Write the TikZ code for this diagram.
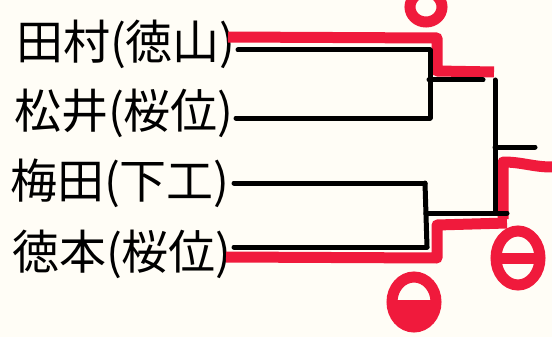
\documentclass[tikz,border=0pt]{standalone}
\usepackage{fontspec}
\newfontfamily\jpfont{Noto Sans CJK JP}
\usepackage{xcolor}
\usetikzlibrary{positioning,calc}
\definecolor{paper}{HTML}{FFFDF6}
\definecolor{winred}{HTML}{F01A3C}
\tikzset{
player/.style = {anchor=east, inner sep=0pt, font=\jpfont\fontsize{47}{47}\selectfont},
pt/.style = {coordinate},
bline/.style = {draw, line width=5pt, line cap=round},
rline/.style = {draw=winred, line width=11pt, line join=round},
res/.style = {draw=winred, line width=11pt},
}

\begin{document}
\begin{tikzpicture}[x=1pt, y=-1pt]
    \fill[paper] (0,0) rectangle (552,337);
    \useasboundingbox (0,0) rectangle (552,337);

    % players
    \node [player] (p1) at (236,44) {田村(徳山)};
    \node [player] (p2) at (234,113) {松井(桜位)};
    \node [player] (p3) at (230,183) {梅田(下工)};
    \node [player] (p4) at (232,254) {徳本(桜位)};

    % bracket points
    \node [pt] (a1) at (238,50) {};
    \node [pt] (a2) at (236,118) {};
    \node [pt] (a3) at (234,183) {};
    \node [pt] (a4) at (234,247) {};
    \node [pt] (b1) at (430,50) {};
    \node [pt] (b2) at (430,118) {};
    \node [pt] (b3) at (425,183) {};
    \node [pt] (b4) at (427,247) {};
    \node [pt] (s1) at (429,80) {};
    \node [pt] (s2) at (426,213) {};
    \node [pt] (f1) at (495,80) {};
    \node [pt] (f2) at (495,213) {};
    \node [pt] (f0) at (495,147) {};
    \node [pt] (out) at (535,147) {};

    % red winner path
    \node [pt] (r1) at (228,37) {};
    \node [pt] (r2) at (437,38) {};
    \node [pt] (r3) at (437,71) {};
    \node [pt] (r4) at (494,72) {};
    \node [pt] (q1) at (226,257) {};
    \node [pt] (q2) at (437,258) {};
    \node [pt] (q3) at (437,225) {};
    \node [pt] (q4) at (507,223) {};
    \node [pt] (w1) at (503,219) {};
    \node [pt] (w2) at (503,162) {};
    \node [pt] (w3) at (552,167) {};

    \draw [rline] (r1) -- (r2) -- (r3) -- (r4);
    \draw [rline] (q1) -- (q2) -- (q3) -- (q4);
    \draw [rline] (w1) -- (w2) to[out=0, in=180] (w3);

    \draw [bline] (a1) -- (b1);
    \draw [bline] (a2) -- (b2);
    \draw [bline] (a3) -- (b3);
    \draw [bline] (a4) -- (b4);
    \draw [bline] (b1) -- (b2);
    \draw [bline] (b3) -- (b4);
    \draw [bline] (s1) -- (483,80);
    \draw [bline] (s2) -- (f2) -- ++(12,0);
    \draw [bline] (f1) -- (f2);
    \draw [bline] (f0) -- (out);

    % result marks
    \node [pt] (m1) at (426,7) {};
    \node [pt] (m2) at (414,302) {};
    \node [pt] (m3) at (518,258) {};
    \draw [res] (m1) circle [x radius=16, y radius=15];
    \draw [res] (m2) circle [x radius=22, y radius=25];
    \fill [winred] ($(m2)+(-22,-2)$) arc [start angle=180, end angle=360, x radius=22, y radius=-25] -- cycle;
    \draw [res] (m3) circle [x radius=22, y radius=27];
    \draw [res] ($(m3)+(-22,0)$) -- ($(m3)+(22,0)$);
\end{tikzpicture}
\end{document}
